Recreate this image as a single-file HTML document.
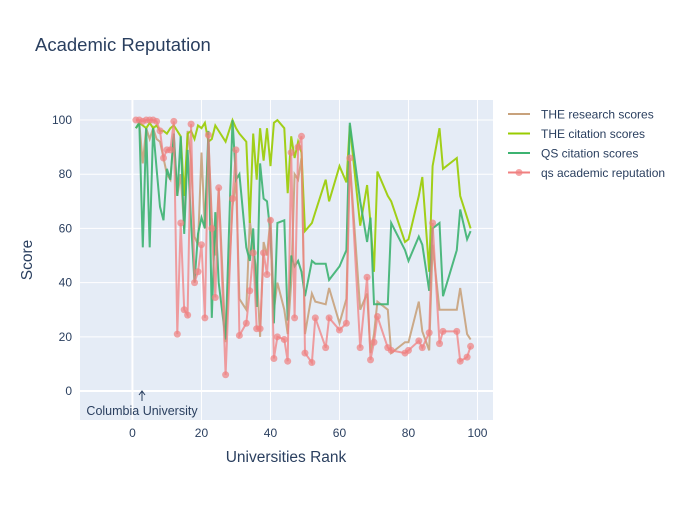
<!DOCTYPE html>
<html><head><meta charset="utf-8">
<style>
body{margin:0;background:#fff;font-family:"Liberation Sans",sans-serif;}
svg text{font-family:"Liberation Sans",sans-serif;}
</style></head>
<body>
<svg id="chart" width="700" height="500">
<rect x="0" y="0" width="700" height="500" fill="#fff"/>
<rect x="80" y="100" width="413" height="320" fill="#e5ecf6"/>
<g id="grid"></g>
<g id="series"></g>
<g id="axes"></g>
<text x="35" y="51" font-size="18.5" fill="#2a3f5f">Academic Reputation</text>
<text x="286" y="462" font-size="15.5" fill="#2a3f5f" text-anchor="middle">Universities Rank</text>
<text x="32" y="260" font-size="15.5" fill="#2a3f5f" text-anchor="middle" transform="rotate(-90 32 260)">Score</text>
<g>
<line x1="142" y1="401" x2="142" y2="391" stroke="#2a3f5f" stroke-width="1"/>
<path d="M139,395 L142,391 L145,395" fill="none" stroke="#2a3f5f" stroke-width="1"/>
<text x="142" y="415" font-size="12.5" fill="#2a3f5f" text-anchor="middle">Columbia University</text>
</g>
<g id="legend"></g>
</svg>
<script>
const ranks=[1,2,3,4,5,6,7,8,9,10,11,12,13,14,15,16,17,18,19,20,21,22,23,24,25,27,29,30,31,33,34,35,36,37,38,39,40,41,42,44,45,46,47,48,49,50,52,53,56,57,60,62,63,66,68,69,70,71,74,75,79,80,83,84,86,87,89,90,94,95,97,98];
const theResearch=[97,99,84,97,93,97,93,92,86,80,78,94,72,80,60,96,85,57,54,88,60,93,64,50,75,18,68,78,34,30,63,52,44,20,55,50,64,30,40,30,21,40,80,78,86,21,36,33,32,38,25,34,85,30,36,14,21,33,30,14,18,18,33,22,15,54,30,30,30,38,21,19];
const theCitation=[97,99,98,97,99,97,98,96,96,95,97,98,96,94,72,95,96,93,98,97,99,92,93,98,96,92,100,97,95,92,62,95,78,97,85,97,83,99,100,97,73,94,86,92,88,59,62,66,78,70,83,77,98,61,76,62,44,81,72,70,55,56,72,79,44,83,97,82,86,72,64,60];
const qsCitation=[97,99,53,97,53,97,82,68,63,82,78,95,72,94,58,89,62,40,58,64,60,96,27,66,40,19,100,78,80,53,48,60,31,84,71,70,58,25,62,63,26,50,46,48,44,35,48,47,47,41,46,52,99,70,55,64,32,32,32,62,52,48,57,54,37,60,62,35,52,67,56,59];
const qsAcademic=[100,100,99.5,100,100,100,99.5,96,86,89,89,99.5,21,62,30,28,98.5,40,44,54,27,94.5,60,34.5,75,6,71,89,20.5,25,37,51,23,23,51,43,63,12,20,19,11,88,27,90,94,14,10.5,27,16,27,22.5,25,86,16,42,11.5,18,27.5,16,15,14,15,18.5,16,21.5,62,17.5,22,22,11,12.5,16.5];
const xTicks=[0,20,40,60,80,100];
const yTicks=[0,20,40,60,80,100];
const seriesNames=["THE research scores","THE citation scores","QS citation scores","qs academic reputation"];
const NS="http://www.w3.org/2000/svg";
const X0=80,X1=493,Y0=100,Y1=420;
const xMin=-15.2,xMax=104.5,yMin=-10.7,yMax=107.4;
const sx=v=>X0+(v-xMin)/(xMax-xMin)*(X1-X0);
const sy=v=>Y1-(v-yMin)/(yMax-yMin)*(Y1-Y0);
function mk(tag,attrs,parent){const e=document.createElementNS(NS,tag);for(const k in attrs)e.setAttribute(k,attrs[k]);parent.appendChild(e);return e;}
const grid=document.getElementById('grid'),axes=document.getElementById('axes');
xTicks.forEach(t=>{
  const l=mk('line',{x1:sx(t),x2:sx(t),y1:Y0,y2:Y1,stroke:'#fff','stroke-width':t===0?2:1},grid);
  
  
  const tx=mk('text',{x:sx(t),y:437,'font-size':12,fill:'#2a3f5f','text-anchor':'middle'},axes);
  tx.textContent=t;
  
  
});
yTicks.forEach(t=>{
  const l=mk('line',{x1:X0,x2:X1,y1:sy(t),y2:sy(t),stroke:'#fff','stroke-width':t===0?2:1},grid);
  
  
  const tx=mk('text',{x:72,y:sy(t)+4,'font-size':12,fill:'#2a3f5f','text-anchor':'end'},axes);
  tx.textContent=t;
  
  
});
const sg=document.getElementById('series');
const defs=[[theResearch,'#c8a27c','the-research-line'],[theCitation,'#99cc00','the-citation-line'],[qsCitation,'#3cb371','qs-citation-line'],[qsAcademic,'#f08080','qs-academic-line']];
defs.forEach(([vals,col,name],i)=>{
  const pts=ranks.map((r,j)=>sx(r).toFixed(1)+','+sy(vals[j]).toFixed(1)).join(' ');
  const p=mk('polyline',{points:pts,fill:'none',stroke:col,'stroke-width':2,opacity:i===3?0.75:0.9},sg);
  
  
  if(i===3){
    ranks.forEach((r,j)=>{
      const c=mk('circle',{cx:sx(r),cy:sy(vals[j]),r:3.5,fill:col,opacity:0.7},sg);
      
      
    });
  }
});
const lg=document.getElementById('legend');
defs.forEach(([vals,col,name],i)=>{
  const y=114+i*19.5;
  const g=mk('g',{},lg);
  
  
  mk('line',{x1:508,x2:530,y1:y,y2:y,stroke:col,'stroke-width':2},g);
  if(i===3) mk('circle',{cx:519,cy:y,r:3.5,fill:col,opacity:0.7},g);
  const t=mk('text',{x:541,y:y+4.5,'font-size':12,fill:'#2a3f5f'},g);
  t.textContent=seriesNames[i];
});
</script>
</body></html>
